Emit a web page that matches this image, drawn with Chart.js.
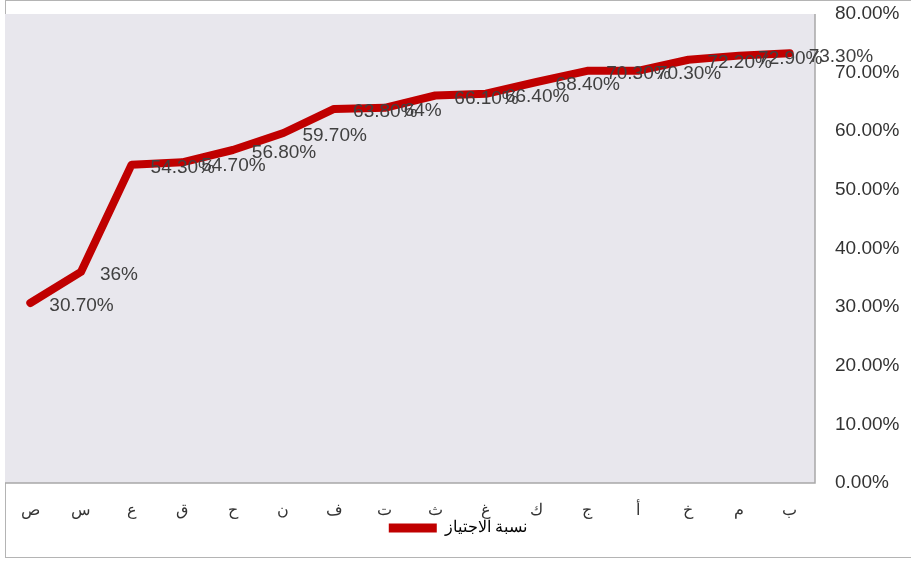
<!DOCTYPE html>
<html>
<head>
<meta charset="utf-8">
<script src="https://cdn.jsdelivr.net/npm/chart.js@4"></script>
<style>
  body { margin: 0; background: #fff; }
  #wrap { width: 911px; height: 563px; position: relative; }
</style>
</head>
<body>
<div id="wrap"><canvas id="myChart" width="911" height="563"></canvas></div>
<script>
var categories = ['ص', 'س', 'ع', 'ق', 'ح', 'ن', 'ف', 'ت', 'ث', 'غ', 'ك', 'ج', 'أ', 'خ', 'م', 'ب']
var passRate = [30.7, 36, 54.3, 54.7, 56.8, 59.7, 63.8, 64, 66.1, 66.4, 68.4, 70.3, 70.3, 72.2, 72.9, 73.3]
var rateLabels = ['30.70%', '36%', '54.30%', '54.70%', '56.80%', '59.70%', '63.80%', '64%', '66.10%', '66.40%', '68.40%', '70.30%', '70.30%', '72.20%', '72.90%', '73.30%']
var seriesName = 'نسبة الاجتياز'

// gray plot area + frame
const plotBg = {
  id: 'plotBg',
  beforeDraw(chart) {
    const c = chart.ctx, a = chart.chartArea
    c.save()
    c.strokeStyle = '#b4b4b4'
    c.lineWidth = 1
    c.strokeRect(5.5, 0.5, 920, 557)
    c.fillStyle = '#e8e7ed'
    c.fillRect(a.left, a.top, a.right - a.left, a.bottom - a.top)
    c.strokeStyle = '#a8a8a8'
    c.lineWidth = 1.5
    c.beginPath()
    c.moveTo(a.left, a.bottom)
    c.lineTo(a.right, a.bottom)
    c.lineTo(a.right, a.top)
    c.stroke()
    c.restore()
  }
}

// labels next to points
const pointLabels = {
  id: 'pointLabels',
  afterDatasetsDraw(chart) {
    const c = chart.ctx
    const meta = chart.getDatasetMeta(0)
    c.save()
    c.font = '19px "Liberation Sans", Arial, sans-serif'
    c.fillStyle = '#404040'
    c.textAlign = 'left'
    c.textBaseline = 'middle'
    meta.data.forEach(function (pt, i) {
      c.fillText(rateLabels[i], pt.x + 19, pt.y + 3)
    })
    c.restore()
  }
}

const ctx = document.getElementById('myChart')

new Chart(ctx, {
  type: 'line',
  data: {
    labels: categories,
    datasets: [{
      label: seriesName,
      data: passRate,
      borderColor: '#c00000',
      backgroundColor: '#c00000',
      borderWidth: 8,
      borderCapStyle: 'round',
      borderJoinStyle: 'round',
      pointRadius: 0,
      tension: 0
    }]
  },
  options: {
    responsive: false,
    animation: false,
    layout: { padding: { left: 5, top: 14, right: 0, bottom: 17 } },
    plugins: {
      tooltip: { enabled: false },
      legend: {
        position: 'bottom',
        labels: {
          color: '#222',
          font: { family: '"Liberation Sans", Arial, sans-serif', size: 16 },
          boxWidth: 48,
          boxHeight: 9,
          padding: 10,
          useBorderRadius: true,
          borderRadius: 4.5,
          generateLabels: function (chart) {
            return [{
              text: seriesName,
              fillStyle: '#c00000',
              strokeStyle: 'rgba(0,0,0,0)',
              lineWidth: 0,
              datasetIndex: 0
            }]
          }
        }
      }
    },
    scales: {
      x: {
        offset: true,
        grid: { display: false, drawTicks: false },
        border: { display: false },
        ticks: {
          color: '#333',
          padding: 18,
          maxRotation: 0,
          autoSkip: false,
          font: { family: '"Liberation Sans", Arial, sans-serif', size: 16 }
        },
        afterFit: function (s) {
          s.height = 27
          s.paddingLeft = 0
          s.paddingRight = 0
          // labels reach below the short axis box, so skip the clip
          s._computeLabelArea = function () { return undefined }
        }
      },
      y: {
        position: 'right',
        min: 0,
        max: 80,
        grid: { display: false, drawTicks: false },
        border: { display: false },
        ticks: {
          stepSize: 10,
          color: '#333',
          padding: 20,
          font: { family: '"Liberation Sans", Arial, sans-serif', size: 19 },
          callback: function (v) { return v.toFixed(2) + '%' }
        },
        afterFit: function (s) { s.width = 96; s.paddingTop = 0; s.paddingBottom = 0 }
      }
    }
  },
  plugins: [plotBg, pointLabels]
});
</script>
</body>
</html>
